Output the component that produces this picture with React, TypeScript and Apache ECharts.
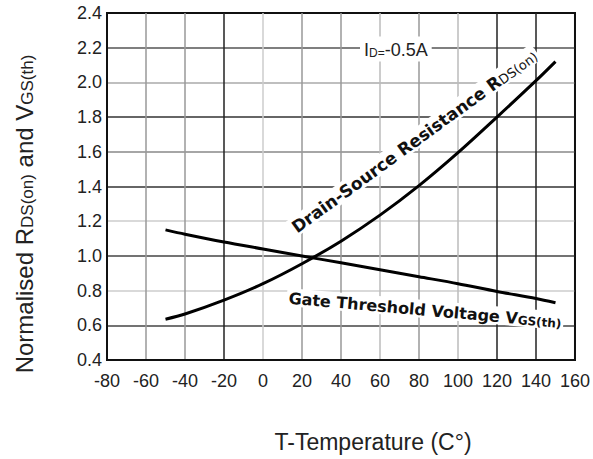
import React, { useEffect, useRef } from "react";
import * as echarts from "echarts";

const tempTicks = [-80, -60, -40, -20, 0, 20, 40, 60, 80, 100, 120, 140, 160];
const rdsTemp = [-50, -40, -20, 0, 20, 40, 60, 80, 100, 120, 140, 150];
const rdsValues = [0.635, 0.665, 0.745, 0.84, 0.955, 1.085, 1.235, 1.405, 1.595, 1.8, 2.01, 2.12];
const vgsTemp = [-50, -40, -20, 0, 20, 40, 60, 80, 100, 120, 140, 150];
const vgsValues = [1.15, 1.125, 1.08, 1.04, 1.0, 0.96, 0.92, 0.88, 0.84, 0.795, 0.755, 0.73];

const xGridColors = ["#111", "#999", "#999", "#222", "#ccc", "#999", "#999", "#bbb", "#999", "#bbb", "#222", "#222", "#111"];
const yGridColors = ["#111", "#444", "#ccc", "#444", "#ccc", "#333", "#888", "#333", "#aaa", "#555", "#111"];

const deg = Math.PI / 180;

export default function App() {
  const ref = useRef<HTMLDivElement>(null);
  useEffect(() => {
    if (!ref.current) return;
    const chart = echarts.init(ref.current, undefined, { renderer: "svg" });
    const tickFont = { fontFamily: "Liberation Sans, Arial, sans-serif", fontSize: 18, color: "#222" };
    chart.setOption({
      animation: false,
      backgroundColor: "#fff",
      grid: {
        left: 107,
        right: 14,
        top: 13,
        bottom: 99,
        show: true,
        borderColor: "#111",
        borderWidth: 2,
        backgroundColor: "transparent",
      },
      xAxis: {
        type: "value",
        min: tempTicks[0],
        max: tempTicks[tempTicks.length - 1],
        interval: 20,
        axisLine: { show: true, onZero: false, lineStyle: { color: "#111", width: 2 } },
        axisTick: { show: false },
        axisLabel: { ...tickFont, margin: 12 },
        splitLine: { show: true, lineStyle: { color: xGridColors, width: 1.5 } },
      },
      yAxis: {
        type: "value",
        min: 0.4,
        max: 2.4,
        interval: 0.2,
        axisLine: { show: true, onZero: false, lineStyle: { color: "#111", width: 2 } },
        axisTick: { show: false },
        axisLabel: { ...tickFont, margin: 5, formatter: (v: number) => v.toFixed(1) },
        splitLine: { show: true, lineStyle: { color: yGridColors, width: 1.5 } },
      },
      series: [
        {
          type: "line",
          name: "RDS(on)",
          data: rdsTemp.map((t, i) => [t, rdsValues[i]]),
          smooth: 0.3,
          showSymbol: false,
          lineStyle: { color: "#000", width: 3 },
          z: 3,
        },
        {
          type: "line",
          name: "VGS(th)",
          data: vgsTemp.map((t, i) => [t, vgsValues[i]]),
          smooth: 0.3,
          showSymbol: false,
          lineStyle: { color: "#000", width: 3 },
          z: 3,
        },
      ],
      graphic: [
        {
          type: "text",
          z: 1,
          x: 297,
          y: 237,
          rotation: 36 * deg,
          style: {
            text: "{m|Drain-Source Resistance R}{s|DS(on)}",
            align: "left",
            verticalAlign: "bottom",
            backgroundColor: "#fff",
            padding: [0, 2],
            rich: {
              m: { fontFamily: "DejaVu Sans", fontWeight: "bold", fontSize: 17, lineHeight: 19, fill: "#111", verticalAlign: "bottom" },
              s: { fontFamily: "DejaVu Sans", fontSize: 13, lineHeight: 19, fill: "#111", verticalAlign: "bottom" },
            },
          },
        },
        {
          type: "text",
          z: 1,
          x: 286,
          y: 306,
          rotation: -5 * deg,
          style: {
            text: "{m|Gate Threshold Voltage V}{s|GS(th)}",
            align: "left",
            verticalAlign: "bottom",
            backgroundColor: "#fff",
            padding: [0, 2],
            rich: {
              m: { fontFamily: "DejaVu Sans", fontWeight: "bold", fontSize: 16, lineHeight: 18, fill: "#111", verticalAlign: "bottom" },
              s: { fontFamily: "DejaVu Sans", fontWeight: "bold", fontSize: 12, lineHeight: 18, fill: "#111", verticalAlign: "bottom" },
            },
          },
        },
        {
          type: "text",
          z: 1,
          x: 360,
          y: 49,
          style: {
            text: "{m|I}{s|D=}{m|-0.5A}",
            align: "left",
            verticalAlign: "middle",
            backgroundColor: "#fff",
            padding: [3, 4],
            rich: {
              m: { fontFamily: "Liberation Sans", fontSize: 18, lineHeight: 19, fill: "#222", verticalAlign: "bottom" },
              s: { fontFamily: "Liberation Sans", fontSize: 12, lineHeight: 19, fill: "#222", verticalAlign: "bottom" },
            },
          },
        },
        {
          type: "text",
          z: 1,
          x: 23,
          y: 214,
          rotation: 90 * deg,
          style: {
            text: "{m|Normalised R}{s|DS(on)}{m| and V}{s|GS(th)}",
            align: "center",
            verticalAlign: "middle",
            rich: {
              m: { fontFamily: "Liberation Sans", fontSize: 24, lineHeight: 26, fill: "#222", verticalAlign: "bottom" },
              s: { fontFamily: "Liberation Sans", fontSize: 17, lineHeight: 26, fill: "#222", verticalAlign: "bottom" },
            },
          },
        },
        {
          type: "text",
          z: 1,
          x: 373,
          y: 442,
          style: {
            text: "T-Temperature (C°)",
            align: "center",
            verticalAlign: "middle",
            fontFamily: "Liberation Sans",
            fontSize: 23,
            fill: "#222",
          },
        },
      ],
    });
    return () => chart.dispose();
  }, []);
  return (
    <div
      ref={ref}
      style={{ position: "fixed", left: 0, top: 0, width: 593, height: 459 }}
    />
  );
}
